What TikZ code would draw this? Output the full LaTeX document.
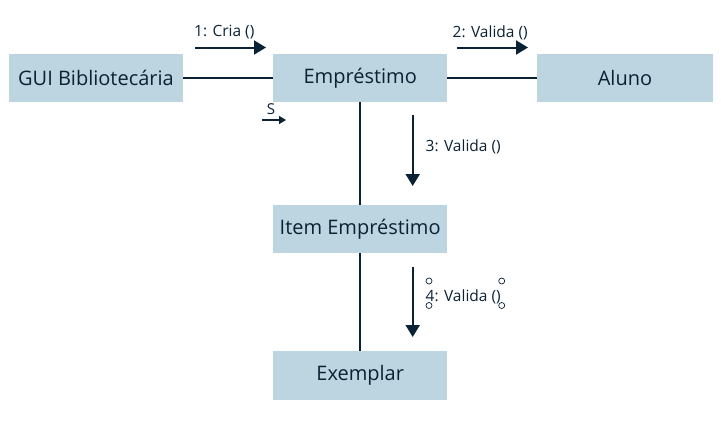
\documentclass[tikz,border=0pt]{standalone}
\usepackage{fontspec}
\setmainfont{Open Sans}
\usetikzlibrary{arrows.meta}
\definecolor{boxfill}{HTML}{BDD5E0}
\definecolor{ink}{HTML}{0B2235}
\begin{document}
\begin{tikzpicture}[x=1pt,y=-1pt,
  cls/.style={fill=boxfill,text=ink,inner sep=0pt,anchor=north west,font=\fontsize{20}{22}\selectfont},
  link/.style={draw=ink,line width=2pt},
  msg/.style={draw=ink,line width=2pt,-{Triangle[width=14pt,length=12pt]}},
  lbl/.style={text=ink,inner sep=0pt,font=\fontsize{15.5}{17}\selectfont},
  handle/.style={draw=ink,line width=0.7pt,fill=white}]
\useasboundingbox (0,0) rectangle (721,424);
% boxes
\node[cls,minimum width=173.5pt,minimum height=47.5pt] (gui) at (9,54) {GUI Bibliotecária};
\node[cls,minimum width=174pt,minimum height=47.5pt] (emp) at (273,54) {Empréstimo};
\node[cls,minimum width=175.5pt,minimum height=47.5pt] (alu) at (537,54) {Aluno};
\node[cls,minimum width=174pt,minimum height=47.5pt] (item) at (273,205) {Item Empréstimo};
\node[cls,minimum width=174pt,minimum height=48.5pt] (ex) at (273,351) {Exemplar};
% links
\draw[link] (gui.east) -- (emp.west);
\draw[link] (emp.east) -- (alu.west);
\draw[link] (emp.south -| 360,0) -- (item.north -| 360,0);
\draw[link] (item.south -| 360,0) -- (ex.north -| 360,0);
% message arrows
\coordinate (a1s) at (195,47.5); \coordinate (a1e) at (266,47.5);
\coordinate (a2s) at (457,47.5); \coordinate (a2e) at (528,47.5);
\coordinate (a3s) at (412.7,115); \coordinate (a3e) at (412.7,186);
\coordinate (a4s) at (412.7,266.5); \coordinate (a4e) at (412.7,337);
\coordinate (ss) at (262,120); \coordinate (se) at (286,120);
\draw[msg] (a1s) -- (a1e);
\draw[msg] (a2s) -- (a2e);
\draw[msg] (a3s) -- (a3e);
\draw[msg] (a4s) -- (a4e);
\draw[draw=ink,line width=1.2pt,-{Triangle[width=8pt,length=7pt]}] (ss) -- (se);
% labels
\node[lbl,anchor=west] (l1) at (194,32.5) {1: Cria ()};
\node[lbl,anchor=west] (l2) at (452.5,32.5) {2: Valida ()};
\node[lbl,anchor=west] (l3) at (425.5,146.5) {3: Valida ()};
\node[lbl,anchor=west] (l4) at (425.5,297) {4: Valida ()};
\node[lbl,anchor=center,font=\fontsize{15}{17}\selectfont] (s) at (271,109) {S};
% selection handles
\draw[handle] (429,281) circle (3);
\draw[handle] (429,305.5) circle (3);
\draw[handle] (501.7,281) circle (3);
\draw[handle] (501.7,305.5) circle (3);
\end{tikzpicture}
\end{document}
